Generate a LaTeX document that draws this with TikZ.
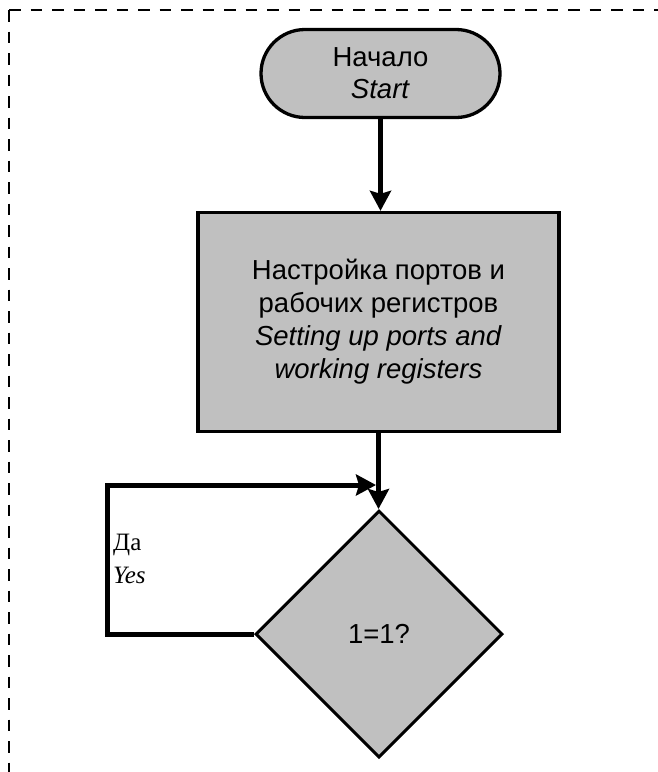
\documentclass[tikz,border=0pt]{standalone}
\usepackage{fontspec}
\setmainfont{Liberation Sans}
\newfontfamily\yesfont{Liberation Serif}
\usetikzlibrary{shapes.geometric,arrows.meta}
\definecolor{flowgray}{RGB}{192,192,192}
\begin{document}
\begin{tikzpicture}[x=1pt,y=-1pt,
  txt/.style={align=center,font=\fontsize{27.5}{32}\selectfont},
  startbox/.style={txt,draw=black,fill=flowgray,line width=3.3pt,rounded corners=44pt,
    minimum width=239pt,minimum height=88pt,inner sep=0pt},
  procbox/.style={align=center,font=\fontsize{27.5}{33}\selectfont,draw=black,fill=flowgray,line width=3.3pt,
    minimum width=361pt,minimum height=219pt,inner sep=0pt},
  decbox/.style={txt,diamond,draw=black,fill=flowgray,line width=3pt,
    minimum width=247pt,minimum height=247pt,inner sep=0pt},
  arr/.style={line width=5pt,line join=miter,-{Stealth[length=20pt,width=21pt,inset=3pt]}},
  frame/.style={line width=2.5pt,dash pattern=on 11.5pt off 10pt},
  lbl/.style={align=left,font=\yesfont\fontsize{25}{33}\selectfont,inner sep=0pt}
]
\useasboundingbox (0,0) rectangle (657,772);
\draw[frame] (9,10) -- (700,10);
\draw[frame] (9,10) -- (9,800);

\node[startbox] (start) at (380.5,73.5) {Начало\\\textit{Start}};
\node[procbox] (setup) at (378.5,322) {Настройка портов и\\рабочих регистров\\\textit{Setting up ports and}\\\textit{working registers}};
\node[decbox] (cond) at (379,634) {1=1?};
\node[lbl,anchor=base west] (yes) at (113,583) {Да\\\textit{Yes}};

\coordinate (corner) at (107,485);
\coordinate (join) at (376,485);

\draw[arr] (start.south) -- (start.south |- setup.north);
\draw[arr] (setup.south) -- (setup.south |- cond.north);
\draw[arr] (cond.west) -| (corner) -- (join);
\end{tikzpicture}
\end{document}
